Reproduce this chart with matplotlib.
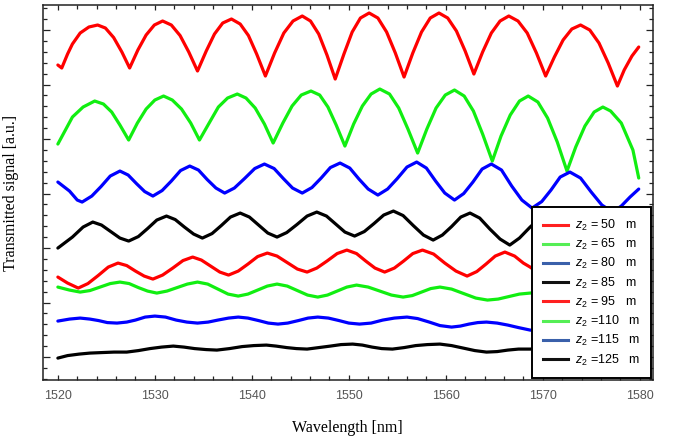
import matplotlib
matplotlib.use("Agg")
import matplotlib.pyplot as plt
from matplotlib.lines import Line2D
from matplotlib.ticker import MultipleLocator, NullFormatter

# (wavelength [nm], transmitted signal [a.u.])
z50 = [(1520.0, 31.5), (1520.4, 31.2), (1521.0, 32.6), (1521.5, 33.6), (1522.3, 34.7), (1523.2, 35.3),
       (1524.1, 35.5), (1524.9, 35.2), (1525.75, 34.25), (1526.6, 32.8), (1527.4, 31.2), (1528.25, 33.0),
       (1529.1, 34.5), (1529.95, 35.5), (1530.8, 35.9), (1531.7, 35.5), (1532.6, 34.45), (1533.5, 32.8),
       (1534.4, 30.9), (1535.3, 32.9), (1536.15, 34.6), (1537.0, 35.7), (1537.9, 36.1), (1538.8, 35.6),
       (1539.65, 34.45), (1540.5, 32.6), (1541.4, 30.4), (1542.35, 32.7), (1543.3, 34.7), (1544.25, 35.9),
       (1545.2, 36.4), (1546.05, 35.9), (1546.9, 34.6), (1547.75, 32.5), (1548.6, 30.1), (1549.5, 32.6),
       (1550.35, 34.8), (1551.2, 36.2), (1552.1, 36.7), (1553.0, 36.2), (1553.9, 34.8), (1554.8, 32.7),
       (1555.7, 30.3), (1556.6, 32.7), (1557.5, 34.8), (1558.4, 36.2), (1559.3, 36.7), (1560.2, 36.2),
       (1561.1, 34.9), (1562.0, 32.9), (1562.9, 30.6), (1563.8, 32.8), (1564.7, 34.7), (1565.6, 35.9),
       (1566.5, 36.4), (1567.45, 35.9), (1568.4, 34.7), (1569.35, 32.7), (1570.3, 30.4), (1571.2, 32.3),
       (1572.1, 34.0), (1573.0, 35.1), (1573.9, 35.5), (1574.85, 35.0), (1575.8, 33.7), (1576.75, 31.7),
       (1577.7, 29.4), (1578.4, 31.0), (1579.2, 32.4), (1579.9, 33.3)]

z65 = [(1520.0, 23.6), (1521.5, 26.3), (1522.6, 27.3), (1523.8, 27.9), (1524.7, 27.6), (1525.55, 26.8),
       (1526.4, 25.5), (1527.3, 24.0), (1528.2, 25.7), (1529.1, 27.1), (1530.0, 28.0), (1530.9, 28.4),
       (1531.8, 28.0), (1532.75, 27.1), (1533.7, 25.7), (1534.6, 24.0), (1535.6, 25.7), (1536.55, 27.3),
       (1537.5, 28.2), (1538.5, 28.6), (1539.4, 28.2), (1540.35, 27.2), (1541.3, 25.6), (1542.2, 23.7),
       (1543.2, 25.7), (1544.15, 27.4), (1545.1, 28.5), (1546.1, 28.9), (1547.0, 28.5), (1547.85, 27.3),
       (1548.7, 25.5), (1549.6, 23.4), (1550.5, 25.6), (1551.4, 27.4), (1552.3, 28.6), (1553.2, 29.1),
       (1554.2, 28.6), (1555.15, 27.2), (1556.1, 25.1), (1557.1, 22.7), (1558.05, 25.1), (1559.0, 27.2),
       (1559.95, 28.5), (1560.9, 29.0), (1561.9, 28.4), (1562.85, 26.9), (1563.8, 24.6), (1564.8, 21.9),
       (1565.7, 24.4), (1566.65, 26.5), (1567.6, 27.9), (1568.5, 28.4), (1569.5, 27.8), (1570.5, 26.2),
       (1571.5, 23.8), (1572.5, 20.9), (1573.4, 23.3), (1574.35, 25.4), (1575.3, 26.8), (1576.2, 27.3),
       (1577.0, 26.9), (1578.1, 25.7), (1579.3, 23.0), (1579.9, 20.2)]

z80 = [(1520.0, 19.8), (1521.2, 18.9), (1522.0, 18.0), (1522.5, 17.8), (1523.5, 18.4), (1524.45, 19.35),
       (1525.4, 20.4), (1526.4, 20.9), (1527.25, 20.5), (1528.1, 19.65), (1528.95, 18.85), (1529.8, 18.4),
       (1530.75, 18.95), (1531.7, 19.9), (1532.65, 20.95), (1533.6, 21.4), (1534.5, 21.0), (1535.4, 20.05),
       (1536.3, 19.2), (1537.2, 18.7), (1538.2, 19.2), (1539.25, 20.15), (1540.3, 21.15), (1541.3, 21.6),
       (1542.3, 21.15), (1543.25, 20.15), (1544.2, 19.2), (1545.2, 18.7), (1546.2, 19.25), (1547.15, 20.2),
       (1548.1, 21.25), (1549.1, 21.7), (1550.1, 21.2), (1551.05, 20.1), (1552.0, 19.1), (1553.0, 18.5),
       (1554.0, 19.1), (1555.0, 20.15), (1556.0, 21.3), (1557.0, 21.8), (1558.0, 21.2), (1558.95, 19.9),
       (1559.9, 18.7), (1560.9, 18.0), (1561.85, 18.65), (1562.8, 19.8), (1563.75, 21.1), (1564.7, 21.6),
       (1565.75, 21.0), (1566.8, 19.4), (1567.85, 18.0), (1568.9, 17.2), (1569.9, 17.85), (1570.85, 19.0),
       (1571.8, 20.3), (1572.8, 20.8), (1573.9, 20.2), (1575.0, 18.8), (1576.1, 17.5), (1577.2, 16.8),
       (1578.1, 17.4), (1579.0, 18.3), (1579.9, 19.1)]

z85 = [(1520.0, 13.2), (1521.5, 14.3), (1522.6, 15.3), (1523.6, 15.8), (1524.5, 15.5), (1525.45, 14.85),
       (1526.4, 14.2), (1527.3, 13.9), (1528.3, 14.35), (1529.25, 15.15), (1530.2, 16.0), (1531.2, 16.4),
       (1532.1, 16.05), (1533.05, 15.3), (1534.0, 14.6), (1534.9, 14.2), (1535.9, 14.65), (1536.85, 15.45),
       (1537.8, 16.3), (1538.8, 16.7), (1539.75, 16.3), (1540.7, 15.5), (1541.65, 14.7), (1542.6, 14.3),
       (1543.6, 14.75), (1544.65, 15.55), (1545.7, 16.4), (1546.7, 16.8), (1547.7, 16.4), (1548.65, 15.6),
       (1549.6, 14.8), (1550.6, 14.4), (1551.6, 14.85), (1552.6, 15.65), (1553.6, 16.5), (1554.6, 16.9),
       (1555.6, 16.45), (1556.65, 15.45), (1557.7, 14.5), (1558.7, 14.0), (1559.65, 14.5), (1560.6, 15.35),
       (1561.55, 16.3), (1562.5, 16.7), (1563.5, 16.2), (1564.55, 15.1), (1565.6, 14.1), (1566.6, 13.5),
       (1567.6, 14.2), (1568.7, 15.3), (1569.6, 16.1), (1570.5, 16.5), (1571.5, 16.1), (1572.5, 15.0),
       (1573.5, 14.0), (1574.5, 13.4), (1575.5, 14.0), (1576.5, 15.0), (1577.5, 16.0), (1578.5, 16.4),
       (1580.0, 15.8)]

z95 = [(1520.0, 10.3), (1521.0, 9.7), (1522.1, 9.2), (1523.1, 9.65), (1524.15, 10.45), (1525.2, 11.3),
       (1526.2, 11.7), (1527.1, 11.45), (1528.0, 10.9), (1528.9, 10.4), (1529.8, 10.1), (1530.8, 10.5),
       (1531.85, 11.2), (1532.9, 11.95), (1533.9, 12.3), (1534.8, 12.0), (1535.75, 11.4), (1536.7, 10.8),
       (1537.6, 10.5), (1538.6, 10.9), (1539.6, 11.6), (1540.6, 12.35), (1541.6, 12.7), (1542.6, 12.4),
       (1543.65, 11.75), (1544.7, 11.1), (1545.7, 10.8), (1546.7, 11.2), (1547.75, 11.9), (1548.8, 12.65),
       (1549.8, 13.0), (1550.8, 12.65), (1551.75, 11.9), (1552.7, 11.2), (1553.7, 10.8), (1554.7, 11.2),
       (1555.65, 11.9), (1556.6, 12.65), (1557.6, 13.0), (1558.75, 12.6), (1559.9, 11.7), (1561.05, 10.9),
       (1562.2, 10.4), (1563.2, 10.85), (1564.15, 11.6), (1565.1, 12.4), (1566.1, 12.8), (1567.1, 12.4),
       (1568.0, 11.7), (1568.7, 11.3), (1570.0, 10.4), (1571.5, 11.0), (1573.0, 12.0), (1574.3, 12.6),
       (1576.0, 12.0), (1578.0, 10.6), (1580.0, 11.3)]

z110 = [(1520.0, 9.3), (1521.2, 9.0), (1522.3, 8.8), (1523.3, 8.95), (1524.35, 9.3), (1525.4, 9.65),
        (1526.4, 9.8), (1527.35, 9.65), (1528.3, 9.25), (1529.25, 8.9), (1530.2, 8.7), (1531.25, 8.9),
        (1532.3, 9.25), (1533.35, 9.6), (1534.4, 9.8), (1535.45, 9.6), (1536.5, 9.1), (1537.55, 8.6),
        (1538.6, 8.4), (1539.6, 8.6), (1540.6, 9.0), (1541.6, 9.4), (1542.6, 9.6), (1543.65, 9.4),
        (1544.7, 8.95), (1545.75, 8.5), (1546.8, 8.3), (1547.8, 8.5), (1548.8, 8.9), (1549.8, 9.3),
        (1550.8, 9.5), (1552.0, 9.3), (1553.2, 8.9), (1554.4, 8.5), (1555.6, 8.3), (1556.55, 8.45),
        (1557.5, 8.8), (1558.45, 9.15), (1559.4, 9.3), (1560.6, 9.1), (1561.85, 8.65), (1563.1, 8.2),
        (1564.3, 8.0), (1565.4, 8.1), (1566.5, 8.35), (1567.6, 8.6), (1568.7, 8.7), (1570.0, 8.8),
        (1572.0, 8.5), (1574.0, 8.0), (1576.0, 8.3), (1578.0, 8.7), (1580.0, 8.5)]

z115 = [(1520.0, 5.9), (1521.2, 6.1), (1522.3, 6.2), (1523.3, 6.1), (1524.2, 5.95), (1525.1, 5.75),
        (1526.1, 5.7), (1527.1, 5.8), (1528.0, 6.0), (1529.0, 6.3), (1530.0, 6.4), (1531.1, 6.3),
        (1532.2, 6.0), (1533.3, 5.8), (1534.4, 5.7), (1535.5, 5.8), (1536.5, 6.0), (1537.6, 6.2),
        (1538.6, 6.3), (1539.6, 6.2), (1540.7, 5.95), (1541.7, 5.7), (1542.7, 5.6), (1543.7, 5.7),
        (1544.8, 5.95), (1545.8, 6.2), (1546.8, 6.3), (1547.9, 6.2), (1549.0, 5.95), (1550.0, 5.7),
        (1551.1, 5.6), (1552.3, 5.7), (1553.5, 6.0), (1554.7, 6.2), (1556.0, 6.3), (1557.1, 6.15),
        (1558.3, 5.8), (1559.4, 5.45), (1560.6, 5.3), (1561.5, 5.4), (1562.4, 5.6), (1563.3, 5.75),
        (1564.2, 5.8), (1565.3, 5.7), (1566.4, 5.5), (1567.5, 5.25), (1568.7, 5.0), (1570.0, 4.9),
        (1572.0, 5.2), (1574.0, 5.0), (1576.0, 4.8), (1578.0, 5.0), (1580.0, 4.9)]

z125 = [(1520.0, 2.2), (1521.0, 2.45), (1522.2, 2.6), (1523.3, 2.7), (1524.5, 2.75), (1525.8, 2.8),
        (1527.1, 2.8), (1528.3, 2.95), (1529.5, 3.15), (1530.7, 3.3), (1531.9, 3.4), (1533.0, 3.3),
        (1534.1, 3.15), (1535.3, 3.05), (1536.4, 3.0), (1537.7, 3.15), (1539.0, 3.35), (1540.2, 3.45),
        (1541.5, 3.5), (1542.5, 3.4), (1543.6, 3.25), (1544.6, 3.15), (1545.7, 3.1), (1546.9, 3.25),
        (1548.1, 3.4), (1549.2, 3.55), (1550.4, 3.6), (1551.4, 3.5), (1552.4, 3.3), (1553.4, 3.15),
        (1554.5, 3.1), (1555.7, 3.25), (1556.9, 3.45), (1558.1, 3.55), (1559.4, 3.6), (1560.6, 3.45),
        (1561.8, 3.2), (1563.0, 2.95), (1564.2, 2.8), (1565.3, 2.85), (1566.4, 3.0), (1567.5, 3.1),
        (1568.7, 3.1), (1572.0, 3.2), (1576.0, 2.9), (1580.0, 3.1)]

series = [z50, z65, z80, z85, z95, z110, z115, z125]
labels = ['$z_2$ = 50   m', '$z_2$ = 65   m', '$z_2$ = 80   m', '$z_2$ = 85   m',
          '$z_2$ = 95   m', '$z_2$ =110   m', '$z_2$ =115   m', '$z_2$ =125   m']
line_colors = ['#ff0000', '#11ee11', '#0000ff', '#000000'] * 2
legend_colors = ['#ff2020', '#55ee55', '#3a60aa', '#111111'] * 2

plt.rcParams['font.family'] = ['Liberation Sans', 'DejaVu Sans']
plt.rcParams['mathtext.fontset'] = 'custom'
plt.rcParams['mathtext.rm'] = 'Liberation Sans'
plt.rcParams['mathtext.it'] = 'Liberation Sans:italic'

fig = plt.figure(figsize=(6.8, 4.43), dpi=100)
ax = fig.add_axes([0.063, 0.142, 0.897, 0.8467])

for data, col in zip(series, line_colors):
    wl = [p[0] for p in data]
    sig = [p[1] for p in data]
    ax.plot(wl, sig, color=col, lw=2.3, solid_joinstyle='round', solid_capstyle='round')

ax.set_xlim(1518.45, 1581.35)
ax.set_ylim(0, 37.5)

ax.xaxis.set_major_locator(MultipleLocator(10))
ax.xaxis.set_minor_locator(MultipleLocator(2))
ax.yaxis.set_major_locator(MultipleLocator(5.45, offset=2.3))
ax.yaxis.set_minor_locator(MultipleLocator(1.09, offset=2.3))
ax.yaxis.set_major_formatter(NullFormatter())
ax.tick_params(which='both', direction='in', top=True, right=True, width=0.9, color='#222222')
ax.tick_params(which='major', length=4)
ax.tick_params(which='minor', length=3)
ax.tick_params(axis='x', which='major', length=3.5, labelsize=9, labelcolor='#555555', pad=7)
ax.tick_params(axis='y', which='major', length=5)
for sp in ax.spines.values():
    sp.set_linewidth(1.1)
    sp.set_color('#222222')

ax.set_xlabel('Wavelength [nm]', family='Liberation Serif', fontsize=11.5, labelpad=13)
ax.set_ylabel('Transmitted signal [a.u.]', family='Liberation Serif', fontsize=11.5, labelpad=14)

handles = [Line2D([], [], color=c, lw=2.2) for c in legend_colors]
leg = ax.legend(handles, labels, loc='lower right', borderaxespad=0.15, fontsize=9,
                frameon=True, fancybox=False, framealpha=1, edgecolor='black',
                handlelength=2.0, handletextpad=0.6, borderpad=0.85, labelspacing=0.33)
leg.get_frame().set_linewidth(1.4)

fig.savefig('out.png', dpi=100)
